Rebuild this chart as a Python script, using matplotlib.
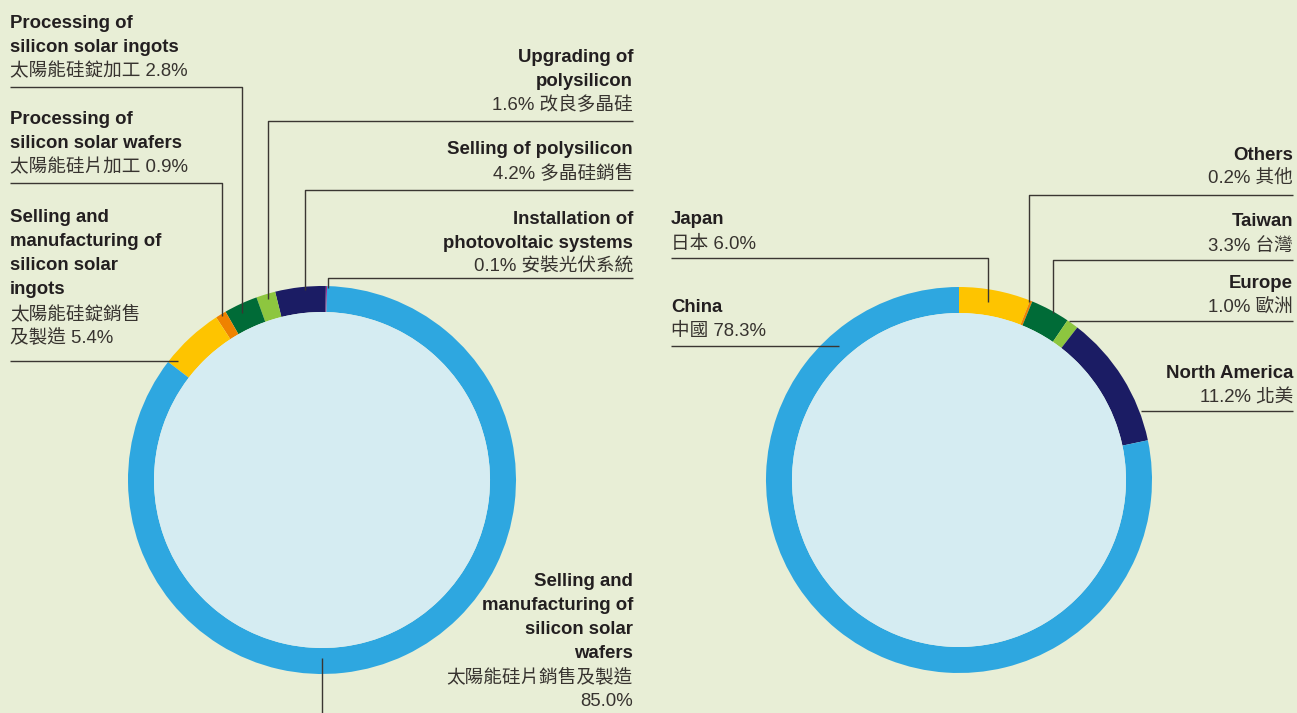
import matplotlib
matplotlib.use("Agg")
import matplotlib.pyplot as plt
from matplotlib.patches import Circle

# revenue by segment (left donut, counterclockwise from the top)
seg_en = ["Installation of\nphotovoltaic systems", "Selling of polysilicon",
          "Upgrading of\npolysilicon", "Processing of\nsilicon solar ingots",
          "Processing of\nsilicon solar wafers",
          "Selling and\nmanufacturing of\nsilicon solar\ningots",
          "Selling and\nmanufacturing of\nsilicon solar\nwafers"]
seg_zh = ["安裝光伏系統", "多晶硅銷售", "改良多晶硅", "太陽能硅錠加工",
          "太陽能硅片加工", "太陽能硅錠銷售\n及製造", "太陽能硅片銷售及製造\n"]
seg_values = [0.1, 4.2, 1.6, 2.8, 0.9, 5.4, 85.0]

# revenue by region (right donut, clockwise from the top)
reg_en = ["Japan", "Others", "Taiwan", "Europe", "North America", "China"]
reg_zh = ["日本", "其他", "台灣", "歐洲", "北美", "中國"]
reg_values = [6.0, 0.2, 3.3, 1.0, 11.2, 78.3]

W, H = 1297, 713
BG = "#e8eed6"
INNER = "#d5ecf2"
INK = "#231f20"
LINE = "#3a3632"
BLUE, NAVY, LGREEN, DGREEN = "#2ea7e0", "#1b1c64", "#8dc63f", "#006b37"
ORANGE, YELLOW, PURPLE = "#ef8200", "#fec400", "#a3238e"

seg_colors = [PURPLE, NAVY, LGREEN, DGREEN, ORANGE, YELLOW, BLUE]
reg_colors = [YELLOW, ORANGE, DGREEN, LGREEN, NAVY, BLUE]

FONT = ["Liberation Sans", "Noto Sans CJK TC"]
FS = 13.4

fig = plt.figure(figsize=(W / 100, H / 100), dpi=100, facecolor=BG)
ax = fig.add_axes([0, 0, 1, 1])
ax.set_facecolor(BG)


def Y(y):
    return H - y


def donut(vals, cols, cx, cy, r, start, ccw):
    ax.pie(vals, colors=cols, center=(cx, Y(cy)), radius=r, startangle=start,
           counterclock=ccw, wedgeprops=dict(width=26, linewidth=0))
    ax.add_patch(Circle((cx, Y(cy)), r - 26, color=INNER, lw=0))


donut(seg_values, seg_colors, 322, 480, 194, 88.5, True)
donut(reg_values, reg_colors, 959, 480, 193, 90, False)


def label(x, y0, ha, en, zh, leader):
    y = y0 + 1
    for line in en.split("\n"):
        ax.text(x, Y(y), line, ha=ha, va="center", fontsize=FS,
                fontweight="bold", color=INK, family=FONT)
        y += 24
    for line in zh.split("\n"):
        ax.text(x, Y(y), line, ha=ha, va="center", fontsize=FS,
                color="#37332f", family=FONT)
        y += 24
    xs = [p[0] for p in leader]
    ys = [Y(p[1]) for p in leader]
    ax.plot(xs, ys, color=LINE, lw=1.0, solid_capstyle="butt", zorder=5)


# left donut labels: (x, first line y, align, leader path)
seg_layout = [
    (633, 218, "right", [(633, 278), (328, 278), (328, 288)]),
    (633, 148, "right", [(633, 190), (305, 190), (305, 290)]),
    (633, 56, "right", [(633, 121), (268, 121), (268, 299)]),
    (10, 22, "left", [(10, 87), (242, 87), (242, 313)]),
    (10, 118, "left", [(10, 183), (222, 183), (222, 316)]),
    (10, 217, "left", [(10, 361), (178, 361)]),
    (633, 580, "right", [(322, 658), (322, 713)]),
]
for i, (x, y0, ha, leader) in enumerate(seg_layout):
    pct = f"{seg_values[i]:.1f}%"
    zh = seg_zh[i]
    if zh.endswith("\n"):
        zh = zh + pct
    elif ha == "left":
        zh = zh + " " + pct
    else:
        zh = pct + " " + zh
    label(x, y0, ha, seg_en[i], zh, leader)

reg_layout = [
    (671, 219, "left", [(671, 258), (988, 258), (988, 302)]),
    (1293, 154, "right", [(1293, 195), (1029, 195), (1029, 302)]),
    (1293, 221, "right", [(1293, 260), (1053, 260), (1053, 313)]),
    (1293, 282, "right", [(1293, 321), (1069, 321)]),
    (1293, 373, "right", [(1293, 411), (1141, 411)]),
    (671, 306, "left", [(671, 346), (839, 346)]),
]
for i, (x, y0, ha, leader) in enumerate(reg_layout):
    pct = f"{reg_values[i]:.1f}%"
    zh = reg_zh[i] + " " + pct if ha == "left" else pct + " " + reg_zh[i]
    label(x, y0, ha, reg_en[i], zh, leader)

ax.set_xlim(0, W)
ax.set_ylim(0, H)
ax.set_aspect("auto")
ax.axis("off")
fig.savefig("out.png", dpi=100, facecolor=BG)
